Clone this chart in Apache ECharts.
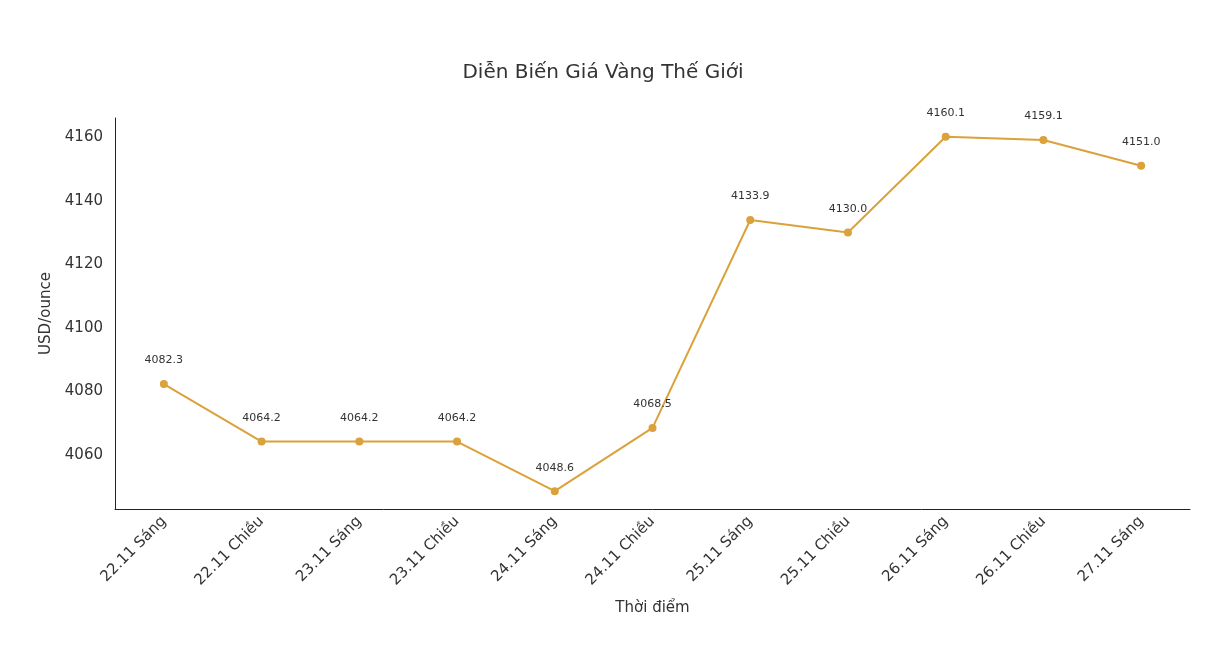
<!DOCTYPE html>
<html>
<head>
<meta charset="utf-8">
<script src="https://cdn.jsdelivr.net/npm/echarts@6/dist/echarts.min.js"></script>
<style>html,body{margin:0;padding:0;background:#fff}#main{width:1206px;height:646px}</style>
</head>
<body>
<div id="main"></div>
<script>
var categories = ["22.11 Sáng","22.11 Chiều","23.11 Sáng","23.11 Chiều","24.11 Sáng","24.11 Chiều","25.11 Sáng","25.11 Chiều","26.11 Sáng","26.11 Chiều","27.11 Sáng"];
var prices = [4082.3,4064.2,4064.2,4064.2,4048.6,4068.5,4133.9,4130.0,4160.1,4159.1,4151.0];
var yTicks = [4060,4080,4100,4120,4140,4160];

var font = "DejaVu Sans";
var myChart = echarts.init(document.getElementById("main"));

// y range chosen from the picture; labels only on the 20-step ticks
myChart.setOption({
    animation : false,
    textStyle : {fontFamily : font},
    title : {
        text : "Diễn Biến Giá Vàng Thế Giới",
        left : "center",
        top : 58,
        textStyle : {fontFamily : font, fontSize : 20, fontWeight : "normal", color : "#333"}
    },
    grid : {left : 115, right : 16, top : 118, bottom : 137},
    xAxis : {
        type : "category",
        data : categories,
        name : "Thời điểm",
        nameLocation : "middle",
        nameGap : 92,
        nameTextStyle : {fontSize : 15, color : "#333"},
        axisLine : {lineStyle : {color : "#222"}},
        axisTick : {alignWithLabel : true, length : 5, lineStyle : {color : "#222"}},
        axisLabel : {rotate : 45, fontSize : 15, color : "#333", interval : 0, margin : 10}
    },
    yAxis : {
        type : "value",
        min : 4043,
        max : 4166,
        interval : 1,
        name : "USD/ounce",
        nameLocation : "middle",
        nameGap : 55,
        nameTextStyle : {fontSize : 15, color : "#333"},
        splitLine : {show : false},
        axisLine : {show : true, lineStyle : {color : "#222"}},
        axisTick : {show : false},
        axisLabel : {
            fontSize : 15,
            color : "#333",
            margin : 12,
            formatter : function(v){
                return yTicks.indexOf(v) >= 0 ? String(v) : "";
            }
        }
    },
    series : [{
        type : "line",
        data : prices,
        symbol : "circle",
        symbolSize : 8,
        lineStyle : {color : "#DBA13A", width : 2},
        itemStyle : {color : "#DBA13A"},
        label : {
            show : true,
            position : "top",
            distance : 14,
            fontSize : 11,
            color : "#333",
            formatter : function(p){ return p.value.toFixed(1); }
        }
    }]
});
</script>
</body>
</html>
